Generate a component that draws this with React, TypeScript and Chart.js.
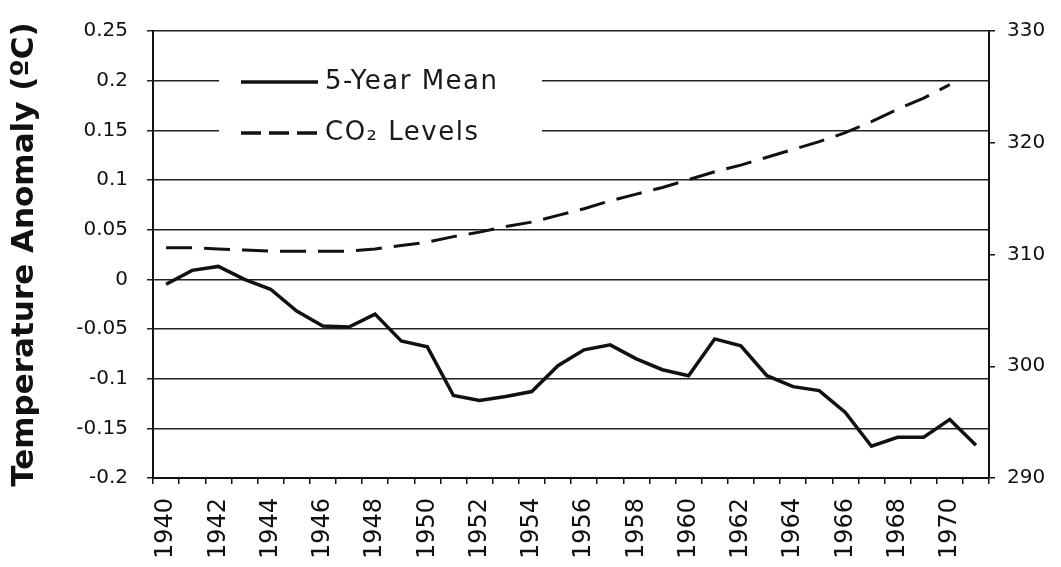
import React, { useEffect, useRef } from 'react';
import { Chart, registerables } from 'chart.js';

Chart.register(...registerables);

const years: string[] = [
  '1940', '1941', '1942', '1943', '1944', '1945', '1946', '1947', '1948', '1949',
  '1950', '1951', '1952', '1953', '1954', '1955', '1956', '1957', '1958', '1959',
  '1960', '1961', '1962', '1963', '1964', '1965', '1966', '1967', '1968', '1969',
  '1970', '1971',
];

const tempMean: number[] = [
  -0.005, 0.009, 0.013, 0.0, -0.01, -0.032, -0.047, -0.048, -0.035, -0.062,
  -0.068, -0.117, -0.122, -0.118, -0.113, -0.087, -0.071, -0.066, -0.08, -0.091,
  -0.097, -0.06, -0.067, -0.097, -0.108, -0.112, -0.134, -0.168, -0.159, -0.159,
  -0.141, -0.167,
];

const co2Levels: (number | null)[] = [
  310.6, 310.6, 310.5, 310.4, 310.3, 310.3, 310.3, 310.3, 310.5, 310.8,
  311.1, 311.6, 312.0, 312.5, 312.9, 313.5, 314.1, 314.8, 315.4, 316.0,
  316.7, 317.4, 318.0, 318.7, 319.4, 320.1, 320.9, 321.9, 323.0, 324.0,
  325.2, null,
];

const seriesLabels: string[] = ['5-Year Mean', 'CO\u2082 Levels'];
const yTitle = 'Temperature Anomaly (\u00baC)';

const FONT = '"DejaVu Sans", sans-serif';

const insideLegend = {
  id: 'insideLegend',
  afterDraw(chart: any) {
    const ctx: CanvasRenderingContext2D = chart.ctx;
    const { left, top } = chart.chartArea;
    ctx.save();
    ctx.fillStyle = '#ffffff';
    ctx.fillRect(left + 66, top + 26, 323, 104);
    chart.data.datasets.forEach((ds: any, i: number) => {
      const y = top + 51 + i * 51;
      ctx.strokeStyle = '#111';
      ctx.lineWidth = 3.5;
      ctx.setLineDash(i === 1 ? [20, 8] : []);
      ctx.beginPath();
      ctx.moveTo(left + 88, y);
      ctx.lineTo(left + 165, y);
      ctx.stroke();
      ctx.setLineDash([]);
      ctx.font = `26px ${FONT}`;
      (ctx as any).letterSpacing = '1.5px';
      ctx.fillStyle = '#1a1a1a';
      ctx.textBaseline = 'middle';
      ctx.textAlign = 'left';
      ctx.fillText(ds.label, left + 172, y);
    });
    ctx.restore();
  },
};

export default function App() {
  const canvasRef = useRef<HTMLCanvasElement | null>(null);

  useEffect(() => {
    document.body.style.margin = '0';
    const canvas = canvasRef.current;
    if (!canvas) return;
    const chart = new Chart(canvas, {
      type: 'line',
      data: {
        labels: years,
        datasets: [
          {
            label: seriesLabels[0],
            data: tempMean,
            yAxisID: 'y',
            borderColor: '#111',
            borderWidth: 3.5,
            pointRadius: 0,
            tension: 0,
            fill: false,
          },
          {
            label: seriesLabels[1],
            data: co2Levels,
            yAxisID: 'y2',
            borderColor: '#111',
            borderWidth: 3,
            borderDash: [26, 12],
            pointRadius: 0,
            tension: 0,
            fill: false,
          },
        ],
      },
      options: {
        responsive: false,
        animation: false,
        devicePixelRatio: 1,
        layout: { padding: { top: 20, left: 0, right: 0, bottom: 0 } },
        plugins: {
          legend: { display: false },
          tooltip: { enabled: false },
        },
        scales: {
          x: {
            type: 'category',
            offset: true,
            grid: {
              display: true,
              drawOnChartArea: false,
              drawTicks: true,
              tickLength: 6,
              offset: true,
              color: '#111',
              lineWidth: 1.5,
            },
            border: { display: true, color: '#111', width: 2 },
            ticks: {
              autoSkip: false,
              maxRotation: 90,
              minRotation: 90,
              padding: 14,
              color: '#111',
              font: { family: FONT, size: 24 },
              callback: function (this: any, value: any, index: number) {
                return index % 2 === 0 ? this.getLabelForValue(value) : '';
              },
            },
            afterFit: (scale: any) => {
              scale.height = 89;
            },
          },
          y: {
            position: 'left',
            min: -0.2,
            max: 0.25,
            ticks: {
              stepSize: 0.05,
              padding: 19,
              color: '#111',
              font: { family: FONT, size: 20 },
              callback: (v: any) => String(Math.round(Number(v) * 100) / 100),
            },
            grid: {
              color: '#222',
              lineWidth: 1.5,
              tickLength: 6,
            },
            border: { display: true, color: '#111', width: 2 },
            title: {
              display: true,
              text: yTitle,
              color: '#111',
              font: { family: FONT, size: 31, weight: 'bold' },
              padding: { top: 6, bottom: 0 },
            },
            afterFit: (scale: any) => {
              scale.width = 153;
            },
          },
          y2: {
            position: 'right',
            min: 290,
            max: 330,
            ticks: {
              stepSize: 10,
              padding: 12,
              color: '#111',
              font: { family: FONT, size: 20 },
            },
            grid: {
              drawOnChartArea: false,
              color: '#111',
              lineWidth: 1.5,
              tickLength: 6,
            },
            border: { display: true, color: '#111', width: 2 },
            afterFit: (scale: any) => {
              scale.width = 72;
            },
          },
        },
      },
      plugins: [insideLegend],
    } as any);
    return () => {
      chart.destroy();
    };
  }, []);

  return (
    <div style={{ position: 'absolute', left: 0, top: 0, width: 1061, height: 567, background: '#fff' }}>
      <canvas ref={canvasRef} width={1061} height={567} style={{ display: 'block' }} />
    </div>
  );
}
